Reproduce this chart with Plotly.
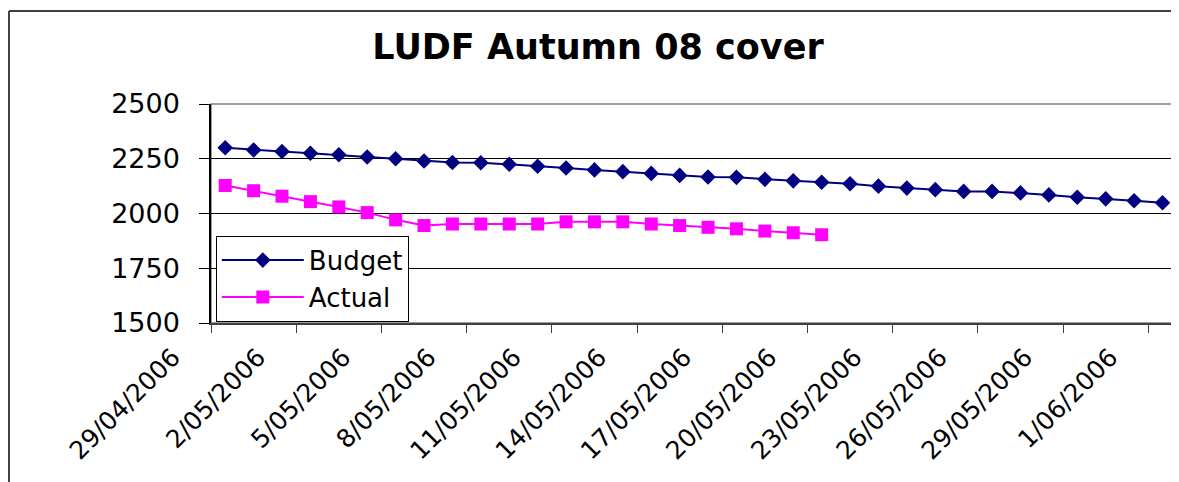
import pandas as pd
import plotly.graph_objects as go

# ---------------- data ----------------
budget_dates = [
    "2006-04-29", "2006-04-30", "2006-05-01", "2006-05-02", "2006-05-03", "2006-05-04",
    "2006-05-05", "2006-05-06", "2006-05-07", "2006-05-08", "2006-05-09", "2006-05-10",
    "2006-05-11", "2006-05-12", "2006-05-13", "2006-05-14", "2006-05-15", "2006-05-16",
    "2006-05-17", "2006-05-18", "2006-05-19", "2006-05-20", "2006-05-21", "2006-05-22",
    "2006-05-23", "2006-05-24", "2006-05-25", "2006-05-26", "2006-05-27", "2006-05-28",
    "2006-05-29", "2006-05-30", "2006-05-31", "2006-06-01",
]
budget_values = [
    2300, 2290, 2283, 2275, 2268, 2258, 2250, 2240, 2233, 2232, 2225, 2216,
    2208, 2199, 2191, 2183, 2174, 2167, 2165, 2156, 2149, 2143, 2136, 2125,
    2116, 2109, 2101, 2101, 2094, 2085, 2074, 2067, 2058, 2049,
]
actual_dates = budget_dates[:22]
actual_values = [
    2128, 2104, 2079, 2054, 2030, 2004, 1971, 1945, 1952, 1952, 1952, 1952,
    1962, 1962, 1962, 1952, 1945, 1937, 1930, 1920, 1912, 1903,
]
tick_dates = [
    "2006-04-29", "2006-05-02", "2006-05-05", "2006-05-08", "2006-05-11", "2006-05-14",
    "2006-05-17", "2006-05-20", "2006-05-23", "2006-05-26", "2006-05-29", "2006-06-01",
]
tick_labels = [
    "29/04/2006", "2/05/2006", "5/05/2006", "8/05/2006", "11/05/2006", "14/05/2006",
    "17/05/2006", "20/05/2006", "23/05/2006", "26/05/2006", "29/05/2006", "1/06/2006",
]
y_ticks = [1500, 1750, 2000, 2250, 2500]
title_text = "LUDF Autumn 08 cover"

# Excel-style date axis: each date occupies a one-day cell, tick marks sit on the cell's left edge
half_day = pd.Timedelta(hours=12)
tick_positions = [d - half_day for d in pd.to_datetime(tick_dates)]
x_start = pd.Timestamp(budget_dates[0]) - half_day
x_end = x_start + pd.Timedelta(days=33.87)

FONT = "DejaVu Sans, Arial, sans-serif"

fig = go.Figure()
fig.add_trace(go.Scatter(
    x=pd.to_datetime(budget_dates), y=budget_values, name="Budget", mode="lines+markers",
    line=dict(color="#000080", width=2),
    marker=dict(symbol="diamond", size=12, color="#000080"),
))
fig.add_trace(go.Scatter(
    x=pd.to_datetime(actual_dates), y=actual_values, name="Actual", mode="lines+markers",
    line=dict(color="#FF00FF", width=2),
    marker=dict(symbol="square", size=13, color="#FF00FF"),
))

W, H = 1171, 474  # page body has an 8px margin
fig.update_layout(
    width=W, height=H,
    margin=dict(l=203, r=6, t=96, b=159, autoexpand=False),
    paper_bgcolor="white", plot_bgcolor="white",
    font=dict(family=FONT, color="black", size=24),
    title=dict(text="<b>" + title_text + "</b>", x=590 / W, xref="container", xanchor="center",
               y=1 - 39 / H, yref="container", yanchor="middle",
               font=dict(family=FONT, size=35, color="black")),
    showlegend=True,
    legend=dict(x=0.005, y=0.006, xanchor="left", yanchor="bottom",
                bgcolor="white", bordercolor="black", borderwidth=1,
                font=dict(family=FONT, size=26, color="black"),
                itemwidth=82, tracegroupgap=0),
    shapes=[
        # plot-area border (grey)
        dict(type="rect", xref="paper", yref="paper", x0=0, x1=1, y0=0, y1=1,
             line=dict(color="#808080", width=1.5), layer="below"),
        # chart-area border (top and left visible)
        dict(type="line", xref="paper", yref="paper", x0=-0.21, x1=1.2, y0=1.4247, y1=1.4247,
             line=dict(color="black", width=1.5)),
        dict(type="line", xref="paper", yref="paper", x0=-0.21, x1=-0.21, y0=-1.0, y1=1.4247,
             line=dict(color="#404040", width=2)),
    ],
)

fig.update_xaxes(
    type="date", range=[x_start, x_end],
    tickmode="array", tickvals=tick_positions, ticktext=tick_labels,
    tickangle=-45, ticks="outside", ticklen=8, tickcolor="#404040", tickwidth=1,
    tickfont=dict(family=FONT, size=25, color="black"),
    ticklabelshift=-38, ticklabelstandoff=0,
    showline=True, linecolor="#404040", linewidth=1.5,
    showgrid=False, zeroline=False,
)
fig.update_yaxes(
    range=[1500, 2500], tickmode="array", tickvals=y_ticks,
    ticks="outside", ticklen=10, tickcolor="black", tickwidth=1,
    tickfont=dict(family=FONT, size=27, color="black"),
    ticklabelstandoff=14,
    showline=True, linecolor="black", linewidth=1.5,
    showgrid=True, gridcolor="black", gridwidth=1, zeroline=False,
)

fig.write_html("out.html")
